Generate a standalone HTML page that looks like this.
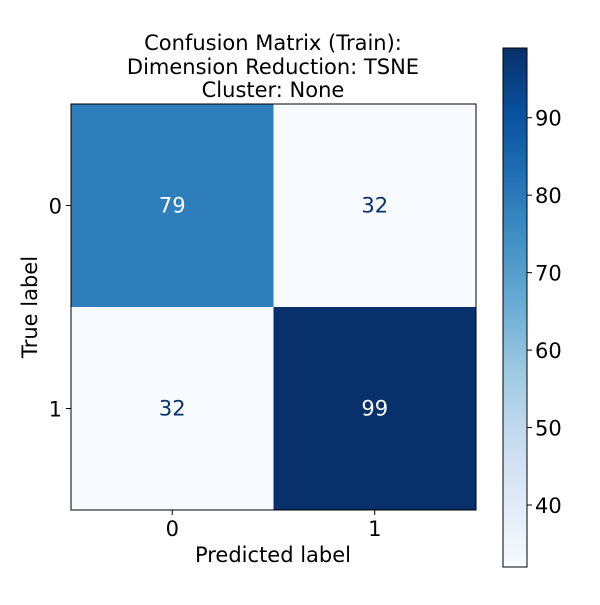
<!DOCTYPE html>
<html><head><meta charset="utf-8"><style>
body{margin:0;background:#fff}
svg text{font-family:"DejaVu Sans","Liberation Sans",sans-serif;fill:#000}
</style></head><body>
<svg id="chart" width="600" height="600" viewBox="0 0 600 600" xmlns="http://www.w3.org/2000/svg">
<defs>
<linearGradient id="blues" x1="0" y1="1" x2="0" y2="0">
<stop offset="0" stop-color="#f7fbff"/><stop offset="0.125" stop-color="#deebf7"/><stop offset="0.25" stop-color="#c6dbef"/><stop offset="0.375" stop-color="#9ecae1"/><stop offset="0.5" stop-color="#6baed6"/><stop offset="0.625" stop-color="#4292c6"/><stop offset="0.75" stop-color="#2171b5"/><stop offset="0.875" stop-color="#08519c"/><stop offset="1" stop-color="#08306b"/>
</linearGradient>
</defs>
<g>
<text x="273" y="50" font-size="21" text-anchor="middle">Confusion Matrix (Train):</text>
<text x="273" y="74" font-size="21" text-anchor="middle">Dimension Reduction: TSNE</text>
<text x="273" y="97" font-size="21" text-anchor="middle">Cluster: None</text>
</g>
<g id="cells"></g>
<rect x="71" y="104" width="405" height="406" fill="none" stroke="#000" stroke-width="1"/>
<g id="axes"></g>
<text x="273" y="562" font-size="21" text-anchor="middle">Predicted label</text>
<text transform="translate(37,307) rotate(-90)" font-size="21" text-anchor="middle">True label</text>
<rect x="503" y="48" width="24" height="519" fill="url(#blues)" stroke="#000" stroke-width="1"/>
<g id="cbticks"></g>
</svg>
<script>
const trueLabels = ["0","1"];
const predLabels = ["0","1"];
const values = [[79,32],[32,99]];
const cbTicks = [40,50,60,70,80,90];
const vmin = 32, vmax = 99;
const NS="http://www.w3.org/2000/svg";
const X0=71,Y0=104,W=405,H=406;
const cw=W/predLabels.length, ch=H/trueLabels.length;
const stops=[[0,"#f7fbff"],[0.125,"#deebf7"],[0.25,"#c6dbef"],[0.375,"#9ecae1"],[0.5,"#6baed6"],[0.625,"#4292c6"],[0.75,"#2171b5"],[0.875,"#08519c"],[1,"#08306b"]];
function hex(c){return [1,3,5].map(i=>parseInt(c.substr(i,2),16));}
function color(v){let t=(v-vmin)/(vmax-vmin);t=Math.max(0,Math.min(1,t));
for(let i=1;i<stops.length;i++){if(t<=stops[i][0]){const a=hex(stops[i-1][1]),b=hex(stops[i][1]);const f=(t-stops[i-1][0])/(stops[i][0]-stops[i-1][0]);return "rgb("+a.map((x,k)=>Math.round(x+(b[k]-x)*f)).join(",")+")";}}return stops[8][1];}
function mk(tag,attrs,parent){const e=document.createElementNS(NS,tag);for(const k in attrs)e.setAttribute(k,attrs[k]);parent.appendChild(e);return e;}
const cells=document.getElementById("cells");
const mid=(vmin+vmax)/2;
values.forEach((row,i)=>row.forEach((v,j)=>{
const r=mk("rect",{x:X0+j*cw,y:Y0+i*ch,width:cw+0.5,height:ch+0.5,fill:color(v)},cells);


const t=mk("text",{x:X0+(j+0.5)*cw,y:Y0+(i+0.5)*ch+7,"font-size":21,"text-anchor":"middle"},cells);
t.style.fill=v>mid?"#fff":"#08306b";
t.textContent=v;


}));
const axes=document.getElementById("axes");
predLabels.forEach((l,j)=>{const x=X0+(j+0.5)*cw;
const tk=mk("line",{x1:x,x2:x,y1:Y0+H,y2:Y0+H+5,stroke:"#000"},axes);


const t=mk("text",{x:x,y:Y0+H+26,"font-size":21,"text-anchor":"middle"},axes);t.textContent=l;

});
trueLabels.forEach((l,i)=>{const y=Y0+(i+0.5)*ch;
const tk=mk("line",{x1:X0-5,x2:X0,y1:y,y2:y,stroke:"#000"},axes);


const t=mk("text",{x:X0-9,y:y+8,"font-size":21,"text-anchor":"end"},axes);t.textContent=l;

});
const cb=document.getElementById("cbticks");
cbTicks.forEach(v=>{const y=567-(v-vmin)/(vmax-vmin)*519;
const tk=mk("line",{x1:527,x2:532,y1:y,y2:y,stroke:"#000"},cb);


const t=mk("text",{x:535,y:y+8,"font-size":21},cb);t.textContent=v;

});
</script>
</body></html>
